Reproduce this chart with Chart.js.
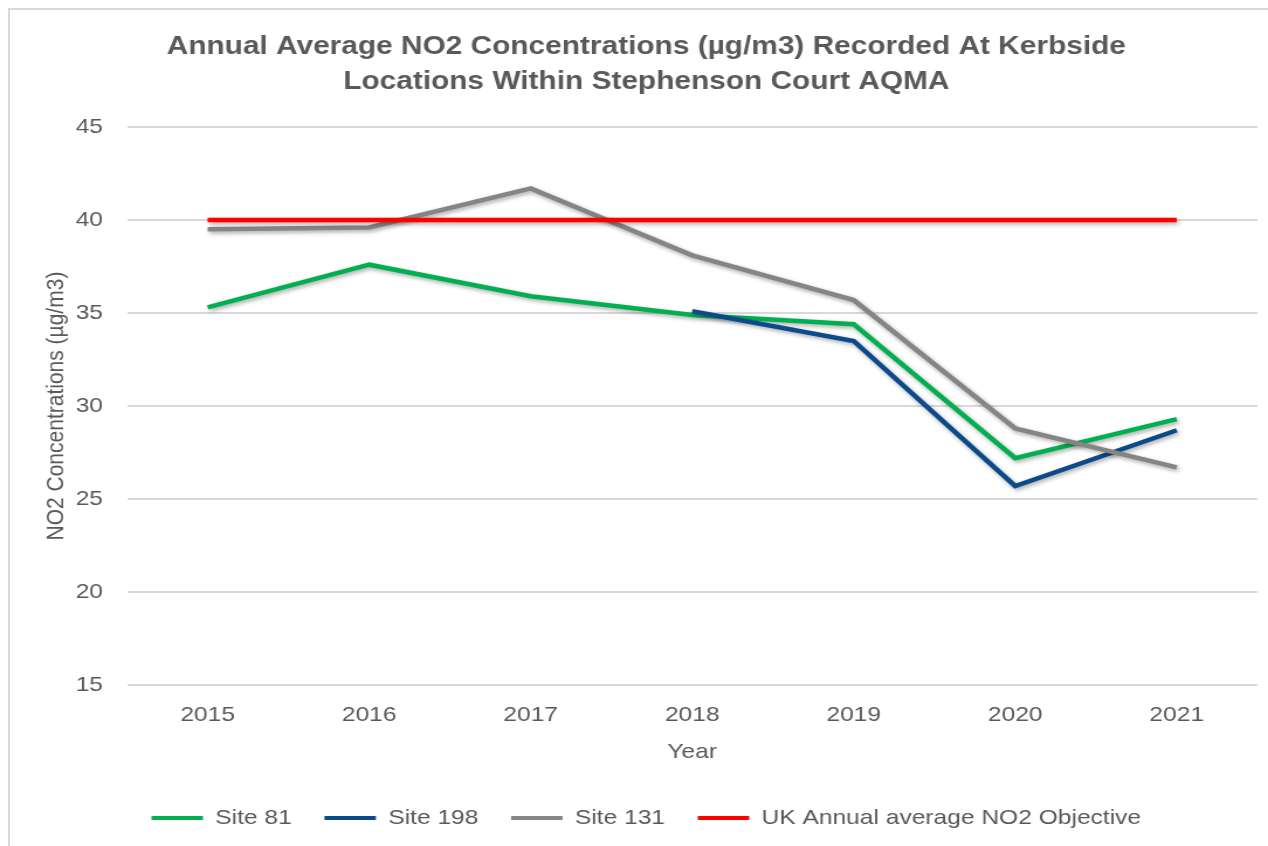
<!DOCTYPE html>
<html>
<head>
<meta charset="utf-8">
<script src="https://cdn.jsdelivr.net/npm/chart.js@4.4.1/dist/chart.umd.min.js"></script>
<style>
  html, body { margin: 0; padding: 0; background: #ffffff; }
  #wrap { position: relative; width: 1268px; height: 846px; overflow: hidden; background: #ffffff; }
  #frame { position: absolute; left: 8px; top: 8px; width: 1300px; height: 900px;
           border-left: 2px solid #d9d9d9; border-top: 2px solid #d9d9d9; }
  #c { position: absolute; left: 0; top: 0; }
</style>
</head>
<body>
<div id="wrap">
  <div id="frame"></div>
  <canvas id="c" width="1084" height="846" style="width:1268px;height:846px;"></canvas>
</div>
<script>
// ---- data ----
const years = ["2015", "2016", "2017", "2018", "2019", "2020", "2021"];
const site81 = [35.3, 37.6, 35.9, 34.9, 34.4, 27.2, 29.3];
const site198 = [null, null, null, 35.1, 33.5, 25.7, 28.7];
const site131 = [39.5, 39.6, 41.7, 38.1, 35.7, 28.8, 26.7];
const objective = [40, 40, 40, 40, 40, 40, 40];
const seriesNames = ["Site 81", "Site 198", "Site 131", "UK Annual average NO2 Objective"];
const chartTitle = ["Annual Average NO2 Concentrations (\u00b5g/m3) Recorded At Kerbside", "Locations Within Stephenson Court AQMA"];
const yTitle = "NO2 Concentrations (\u00b5g/m3)";
const xTitle = "Year";

const TXT = "#595959";
const FONT = "'Liberation Sans', Arial, sans-serif";

const shadowPlugin = {
  id: "lineShadow",
  beforeDatasetDraw(chart) {
    const ctx = chart.ctx;
    ctx.save();
    ctx.shadowColor = "rgba(0,0,0,0.35)";
    ctx.shadowBlur = 4;
    ctx.shadowOffsetX = 1.5;
    ctx.shadowOffsetY = 2;
  },
  afterDatasetDraw(chart) {
    chart.ctx.restore();
  }
};

const mk = (label, data, color, order) => ({
  label, data, borderColor: color, backgroundColor: color,
  borderWidth: 4.5, pointRadius: 0, pointHoverRadius: 0, tension: 0,
  spanGaps: false, order
});

const canvas = document.getElementById("c");
new Chart(canvas, {
  type: "line",
  data: {
    labels: years,
    datasets: [
      mk(seriesNames[0], site81, "#00b050", 4),
      mk(seriesNames[1], site198, "#0b4a8b", 3),
      mk(seriesNames[2], site131, "#858585", 2),
      mk(seriesNames[3], objective, "#ff0000", 1)
    ]
  },
  plugins: [shadowPlugin],
  options: {
    responsive: false,
    maintainAspectRatio: false,
    devicePixelRatio: 1,
    animation: false,
    layout: { padding: { left: 30, right: 9, top: 0, bottom: 7.5 } },
    plugins: {
      tooltip: { enabled: false },
      title: {
        display: true,
        text: chartTitle,
        color: TXT,
        font: { family: FONT, size: 25.5, weight: "bold", lineHeight: 1.373 },
        padding: { top: 29.5, bottom: 27.5 }
      },
      legend: {
        position: "bottom",
        labels: {
          color: TXT,
          font: { family: FONT, size: 21 },
          boxWidth: 44,
          boxHeight: 4,
          padding: 28,
          sort: (a, b) => a.datasetIndex - b.datasetIndex,
          generateLabels(chart) {
            const items = Chart.defaults.plugins.legend.labels.generateLabels(chart);
            items.forEach(it => { it.lineWidth = 0; it.fillStyle = it.strokeStyle; });
            return items;
          }
        }
      }
    },
    scales: {
      x: {
        offset: true,
        grid: { display: false, drawTicks: false },
        border: { display: false },
        ticks: { color: TXT, font: { family: FONT, size: 21 }, padding: 18, maxRotation: 0 },
        title: { display: true, text: xTitle, color: TXT, font: { family: FONT, size: 21 },
                 padding: { top: -7, bottom: 15 } }
      },
      y: {
        min: 15, max: 45,
        afterFit(scale) { scale.width = 78.5; },
        grid: { color: "#d9d9d9", lineWidth: 2, drawTicks: false },
        border: { display: false },
        ticks: { stepSize: 5, color: TXT, font: { family: FONT, size: 21 }, padding: 20.5 },
        title: { display: true, text: yTitle, color: TXT, font: { family: FONT, size: 21 },
                 padding: { top: 6, bottom: 0 } }
      }
    }
  }
});
canvas.style.width = "1268px";
canvas.style.height = "846px";
</script>
</body>
</html>
